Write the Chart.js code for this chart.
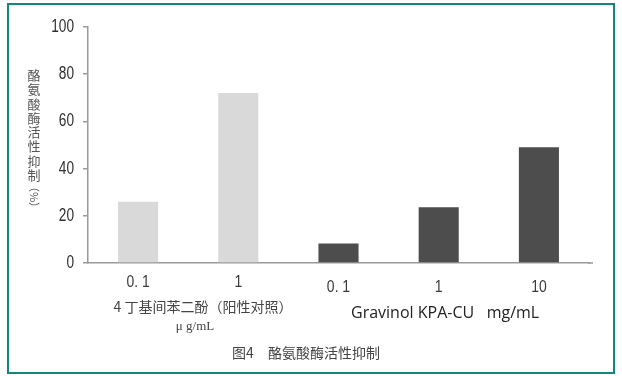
<!DOCTYPE html>
<html>
<head>
<meta charset="utf-8">
<script src="https://cdn.jsdelivr.net/npm/chart.js@4/dist/chart.umd.min.js"></script>
<style>
  html, body { margin: 0; padding: 0; background: #fff; }
  #wrap { position: relative; width: 622px; height: 376px; }
  #frame { position: absolute; left: 7px; top: 3px; width: 604px; height: 367px; border: 2.5px solid #10897b; pointer-events: none; }
  canvas { position: absolute; left: 0; top: 0; }
</style>
</head>
<body>
<div id="wrap">
  <canvas id="chart" width="622" height="376"></canvas>
  <div id="frame"></div>
</div>
<script>
// data
const categories = ['0. 1', '1', '0. 1', '1', '10'];
const inhibition = [26, 72, 8.3, 23.6, 49];
const barColors = ['#d9d9d9', '#d9d9d9', '#4d4d4d', '#4d4d4d', '#4d4d4d'];
const labelDrop = [0, 0, 5, 5, 5];   // second group labels sit a bit lower
const yTicks = [0, 20, 40, 60, 80, 100];

const yTitle = '酪氨酸酶活性抑制';
const yUnit = '（%）';
const group1 = '4 丁基间苯二酚（阳性对照）';
const group1Unit = 'μ g/mL';
const group2 = 'Gravinol KPA-CU   mg/mL';
const caption = '图4　酪氨酸酶活性抑制';

const sans = '"Liberation Sans", Arial, sans-serif';
const cjk = '"Noto Sans CJK SC", "Noto Sans", sans-serif';

// the figure uses a condensed face, so squeeze regular text horizontally
function condensed(ctx, text, x, y, sx, align) {
  ctx.save();
  ctx.translate(x, y);
  ctx.scale(sx, 1);
  ctx.textAlign = align;
  ctx.fillText(text, 0, 0);
  ctx.restore();
}

const extras = {
  id: 'extras',
  afterDraw(chart) {
    const ctx = chart.ctx;
    const x = chart.scales.x;
    const y = chart.scales.y;
    const area = chart.chartArea;
    ctx.save();

    // x axis runs a little past the last bar
    ctx.strokeStyle = '#9a9a9a';
    ctx.lineWidth = 1.5;
    ctx.beginPath();
    ctx.moveTo(area.right - 1, area.bottom);
    ctx.lineTo(area.right + 4, area.bottom);
    ctx.stroke();

    ctx.textBaseline = 'middle';
    ctx.fillStyle = '#2e2e2e';
    ctx.font = '18px ' + sans;
    yTicks.forEach(v => condensed(ctx, String(v), 74, y.getPixelForValue(v), 0.76, 'right'));

    ctx.fillStyle = '#3a3a3a';
    ctx.font = '17px ' + sans;
    categories.forEach((c, i) => {
      condensed(ctx, c, x.getPixelForValue(i), area.bottom + 19 + labelDrop[i], 0.82, 'center');
    });

    // vertical y title, upright characters
    ctx.textAlign = 'center';
    ctx.fillStyle = '#555';
    ctx.font = '13px ' + cjk;
    [...yTitle].forEach((ch, i) => ctx.fillText(ch, 34, 75 + i * 14.3));
    ctx.save();
    ctx.translate(34, 197);
    ctx.rotate(Math.PI / 2);
    ctx.font = '11px ' + cjk;
    ctx.fillText(yUnit, 0, 0);
    ctx.restore();

    // group labels
    ctx.fillStyle = '#444';
    ctx.font = '14px ' + cjk;
    ctx.fillText(group1, 203, 307);
    ctx.font = '13px "Liberation Serif", "DejaVu Serif", serif';
    ctx.fillText(group1Unit, 195, 327);
    ctx.fillStyle = '#222';
    ctx.font = '16px "Open Sans", sans-serif';
    ctx.textAlign = 'left';
    ctx.fillText(group2, 351, 313);

    // caption
    ctx.textAlign = 'center';
    ctx.fillStyle = '#444';
    ctx.font = '14px ' + cjk;
    ctx.fillText(caption, 306, 353);
    ctx.restore();
  }
};

new Chart(document.getElementById('chart'), {
  type: 'bar',
  data: {
    labels: categories,
    datasets: [{
      data: inhibition,
      backgroundColor: barColors,
      borderWidth: 0,
      barPercentage: 0.4,
      categoryPercentage: 1
    }]
  },
  options: {
    responsive: false,
    animation: false,
    layout: { padding: { left: 0, right: 33, top: 27, bottom: 0 } },
    plugins: { legend: { display: false }, tooltip: { enabled: false } },
    scales: {
      x: {
        grid: { display: false },
        border: { display: true, color: '#9a9a9a', width: 1.5 },
        ticks: { display: false },
        afterFit(scale) { scale.height = 376 - 263; }
      },
      y: {
        min: 0,
        max: 100,
        afterBuildTicks(scale) { scale.ticks = yTicks.map(v => ({ value: v })); },
        grid: { drawOnChartArea: false, drawTicks: true, tickLength: 5, color: '#9a9a9a', lineWidth: 1.5 },
        border: { display: true, color: '#9a9a9a', width: 1.5 },
        // labels are drawn condensed by the plugin
        ticks: { padding: 10, color: 'rgba(0,0,0,0)', font: { family: sans, size: 17 } },
        afterFit(scale) { scale.width = 88; }
      }
    }
  },
  plugins: [extras]
});
</script>
</body>
</html>
